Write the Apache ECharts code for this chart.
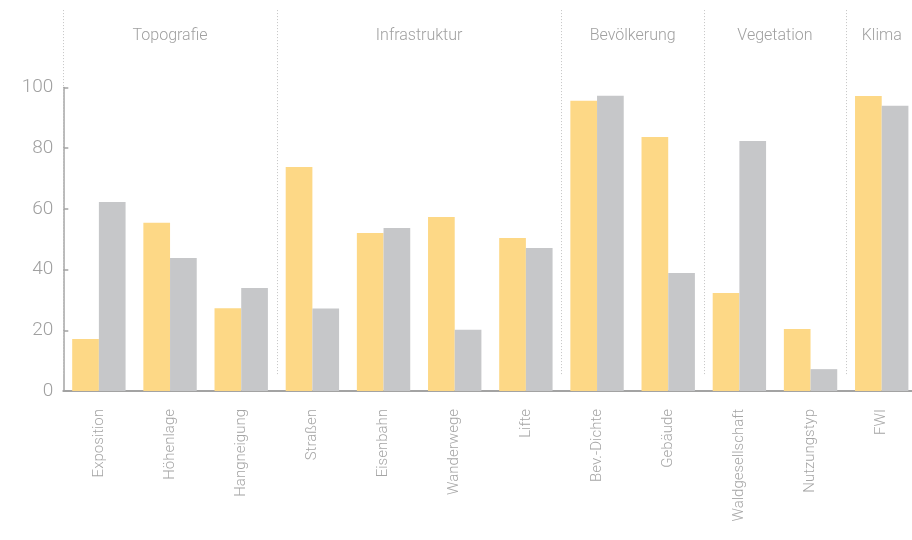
<!DOCTYPE html>
<html><head><meta charset="utf-8">
<script src="https://cdn.jsdelivr.net/npm/echarts@6/dist/echarts.min.js"></script>
<style>html,body{margin:0;padding:0;background:#fff}#c{width:912px;height:540px}</style>
</head><body><div id="c"></div>
<script>
const categories = ['Exposition','Höhenlage','Hangneigung','Straßen','Eisenbahn','Wanderwege','Lifte','Bev.-Dichte','Gebäude','Waldgesellschaft','Nutzungstyp','FWI'];
const seriesYellow = [17.1, 55.4, 27.3, 73.8, 52.1, 57.3, 50.4, 95.6, 83.7, 32.3, 20.4, 97.2];
const seriesGray   = [62.3, 43.8, 33.9, 27.2, 53.7, 20.2, 47.1, 97.3, 38.9, 82.4, 7.2, 94.0];
const yTicks = [0, 20, 40, 60, 80, 100];
const groupNames = ['Topografie','Infrastruktur','Bevölkerung','Vegetation','Klima'];
const groupStart = [0, 3, 7, 9, 11];
const groupEnd   = [3, 7, 9, 11, 12];

const FONT = 'Roboto';
const SEP_TOP = 125.5, SEP_BOTTOM = 5, LABEL_Y = 117;

const chart = echarts.init(document.getElementById('c'), null, {renderer: 'canvas'});
chart.setOption({
  animation: false,
  backgroundColor: '#fff',
  grid: {left: 63.3, width: 854, top: 87.5, bottom: 149, containLabel: false, outerBoundsMode: 'none'},
  xAxis: [{
    type: 'category', data: categories,
    axisLine: {lineStyle: {color: '#a3a3a3', width: 2}},
    axisTick: {inside: true, length: 7, lineStyle: {color: '#a3a3a3', width: 1.5}},
    axisLabel: {rotate: 90, margin: 18, fontSize: 15, color: '#a5a5a5', fontFamily: FONT, fontWeight: 300}
  }, {
    type: 'value', min: 0, max: 12, show: false
  }],
  yAxis: {
    type: 'value', min: yTicks[0], max: yTicks[yTicks.length - 1], interval: yTicks[1] - yTicks[0],
    splitLine: {show: false},
    axisLine: {show: true, lineStyle: {color: '#a3a3a3', width: 1.5}},
    axisTick: {show: true, inside: true, length: 5, lineStyle: {color: '#a3a3a3', width: 1.5}},
    axisLabel: {fontSize: 19, color: '#a0a0a0', margin: 10, fontFamily: FONT, fontWeight: 300}
  },
  series: [{
    type: 'bar', data: seriesYellow, barGap: '0%', barCategoryGap: '25%',
    itemStyle: {color: '#fdd886'}
  }, {
    type: 'bar', data: seriesGray, barGap: '0%', barCategoryGap: '25%',
    itemStyle: {color: '#c6c7c9'}
  }, {
    type: 'custom', xAxisIndex: 1, yAxisIndex: 0, silent: true,
    data: groupStart.map(v => [v]),
    encode: {x: 0},
    renderItem: (params, api) => {
      const a = api.coord([api.value(0), SEP_TOP]);
      const b = api.coord([api.value(0), SEP_BOTTOM]);
      return {type: 'line', shape: {x1: Math.round(a[0]) + 0.5, y1: a[1], x2: Math.round(b[0]) + 0.5, y2: b[1]},
        style: {stroke: '#c4c4c4', lineWidth: 1, lineDash: [1, 2]}};
    }
  }, {
    type: 'custom', xAxisIndex: 1, yAxisIndex: 0, silent: true,
    data: groupNames.map((n, i) => [(groupStart[i] + groupEnd[i]) / 2, n]),
    encode: {x: 0},
    renderItem: (params, api) => {
      const p = api.coord([api.value(0), LABEL_Y]);
      return {type: 'text', x: p[0], y: p[1],
        style: {text: groupNames[params.dataIndex], fill: '#a0a0a0', fontSize: 16, fontFamily: FONT, fontWeight: 300,
          align: 'center', verticalAlign: 'middle', textAlign: 'center', textVerticalAlign: 'middle'}};
    }
  }]
});
</script></body></html>
